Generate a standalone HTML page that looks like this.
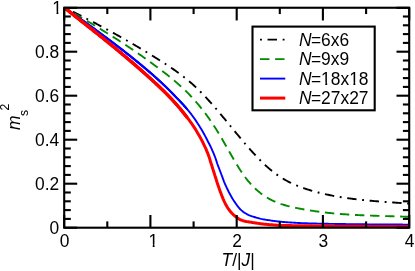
<!DOCTYPE html>
<html><head><meta charset="utf-8">
<style>
html,body{margin:0;padding:0;background:#fff;}
body{width:415px;height:271px;overflow:hidden;}
svg{display:block;will-change:transform;}
text{font-family:"Liberation Sans",sans-serif;font-size:17.4px;fill:#000;}
.it{font-style:italic;}
</style></head><body>
<svg width="415" height="271" viewBox="0 0 415 271">
<rect width="415" height="271" fill="#fff"/>
<defs>
<clipPath id="one"><path d="M-1,-15 H11 V-2.4 H6.1 V2 H4.2 V-2.4 H-1 Z"/></clipPath>
<clipPath id="one2"><path d="M-1,-15 H80 V4 H59.4 V-2.4 H56.3 V4 H54.4 V-2.4 H51.1 V4 H31.3 V-2.4 H28.2 V4 H26.3 V-2.4 H23.0 V4 H-1 Z"/></clipPath>
<clipPath id="c"><rect x="64.2" y="7.75" width="345.0" height="219.95"/></clipPath></defs>
<g clip-path="url(#c)" fill="none" stroke-linejoin="round">
<path d="M64.2,7.50 L65.2,7.99 L66.2,8.48 L67.2,8.97 L68.2,9.46 L69.2,9.96 L70.2,10.45 L71.2,10.95 L72.2,11.44 L73.2,11.94 L74.2,12.44 L75.2,12.94 L76.2,13.44 L77.2,13.94 L78.2,14.45 L79.2,14.95 L80.2,15.46 L81.2,15.96 L82.2,16.47 L83.2,16.98 L84.2,17.49 L85.2,18.00 L86.2,18.51 L87.2,19.03 L88.2,19.54 L89.2,20.06 L90.2,20.58 L91.2,21.10 L92.2,21.62 L93.2,22.14 L94.2,22.66 L95.2,23.19 L96.2,23.71 L97.2,24.24 L98.2,24.77 L99.2,25.30 L100.2,25.83 L101.2,26.36 L102.2,26.90 L103.2,27.43 L104.2,27.97 L105.2,28.51 L106.2,29.05 L107.2,29.59 L108.2,30.13 L109.2,30.68 L110.2,31.22 L111.2,31.77 L112.2,32.32 L113.2,32.87 L114.2,33.42 L115.2,33.97 L116.2,34.53 L117.2,35.09 L118.2,35.64 L119.2,36.20 L120.2,36.76 L121.2,37.33 L122.2,37.89 L123.2,38.46 L124.2,39.02 L125.2,39.59 L126.2,40.16 L127.2,40.74 L128.2,41.31 L129.2,41.89 L130.2,42.46 L131.2,43.04 L132.2,43.62 L133.2,44.21 L134.2,44.79 L135.2,45.38 L136.2,45.96 L137.2,46.55 L138.2,47.15 L139.2,47.74 L140.2,48.33 L141.2,48.93 L142.2,49.53 L143.2,50.13 L144.2,50.73 L145.2,51.33 L146.2,51.94 L147.2,52.55 L148.2,53.16 L149.2,53.77 L150.2,54.38 L151.2,55.00 L152.2,55.61 L153.2,56.23 L154.2,56.85 L155.2,57.48 L156.2,58.10 L157.2,58.73 L158.2,59.36 L159.2,59.99 L160.2,60.62 L161.2,61.25 L162.2,61.89 L163.2,62.53 L164.2,63.17 L165.2,63.82 L166.2,64.47 L167.2,65.12 L168.2,65.78 L169.2,66.44 L170.2,67.11 L171.2,67.79 L172.2,68.47 L173.2,69.15 L174.2,69.85 L175.2,70.55 L176.2,71.26 L177.2,71.97 L178.2,72.70 L179.2,73.43 L180.2,74.17 L181.2,74.92 L182.2,75.68 L183.2,76.45 L184.2,77.24 L185.2,78.03 L186.2,78.83 L187.2,79.65 L188.2,80.47 L189.2,81.31 L190.2,82.17 L191.2,83.03 L192.2,83.91 L193.2,84.80 L194.2,85.71 L195.2,86.63 L196.2,87.57 L197.2,88.52 L198.2,89.49 L199.2,90.47 L200.2,91.47 L201.2,92.48 L202.2,93.50 L203.2,94.54 L204.2,95.59 L205.2,96.65 L206.2,97.72 L207.2,98.80 L208.2,99.90 L209.2,101.00 L210.2,102.11 L211.2,103.24 L212.2,104.37 L213.2,105.51 L214.2,106.66 L215.2,107.81 L216.2,108.98 L217.2,110.15 L218.2,111.32 L219.2,112.50 L220.2,113.69 L221.2,114.88 L222.2,116.08 L223.2,117.28 L224.2,118.48 L225.2,119.69 L226.2,120.90 L227.2,122.11 L228.2,123.32 L229.2,124.54 L230.2,125.75 L231.2,126.97 L232.2,128.18 L233.2,129.40 L234.2,130.61 L235.2,131.82 L236.2,133.03 L237.2,134.24 L238.2,135.45 L239.2,136.65 L240.2,137.85 L241.2,139.04 L242.2,140.23 L243.2,141.42 L244.2,142.59 L245.2,143.76 L246.2,144.93 L247.2,146.09 L248.2,147.24 L249.2,148.38 L250.2,149.51 L251.2,150.63 L252.2,151.74 L253.2,152.85 L254.2,153.94 L255.2,155.02 L256.2,156.08 L257.2,157.14 L258.2,158.18 L259.2,159.21 L260.2,160.22 L261.2,161.22 L262.2,162.21 L263.2,163.18 L264.2,164.13 L265.2,165.07 L266.2,165.99 L267.2,166.89 L268.2,167.78 L269.2,168.64 L270.2,169.49 L271.2,170.32 L272.2,171.12 L273.2,171.91 L274.2,172.68 L275.2,173.43 L276.2,174.16 L277.2,174.87 L278.2,175.56 L279.2,176.23 L280.2,176.89 L281.2,177.53 L282.2,178.15 L283.2,178.75 L284.2,179.34 L285.2,179.92 L286.2,180.47 L287.2,181.02 L288.2,181.55 L289.2,182.06 L290.2,182.56 L291.2,183.05 L292.2,183.52 L293.2,183.98 L294.2,184.43 L295.2,184.87 L296.2,185.29 L297.2,185.71 L298.2,186.11 L299.2,186.50 L300.2,186.89 L301.2,187.26 L302.2,187.62 L303.2,187.98 L304.2,188.32 L305.2,188.66 L306.2,188.99 L307.2,189.31 L308.2,189.63 L309.2,189.94 L310.2,190.24 L311.2,190.54 L312.2,190.83 L313.2,191.11 L314.2,191.39 L315.2,191.67 L316.2,191.94 L317.2,192.20 L318.2,192.46 L319.2,192.72 L320.2,192.97 L321.2,193.21 L322.2,193.45 L323.2,193.69 L324.2,193.92 L325.2,194.15 L326.2,194.37 L327.2,194.59 L328.2,194.80 L329.2,195.01 L330.2,195.22 L331.2,195.42 L332.2,195.62 L333.2,195.81 L334.2,196.00 L335.2,196.18 L336.2,196.37 L337.2,196.54 L338.2,196.72 L339.2,196.89 L340.2,197.06 L341.2,197.22 L342.2,197.38 L343.2,197.54 L344.2,197.69 L345.2,197.84 L346.2,197.99 L347.2,198.13 L348.2,198.28 L349.2,198.41 L350.2,198.55 L351.2,198.68 L352.2,198.81 L353.2,198.94 L354.2,199.06 L355.2,199.18 L356.2,199.30 L357.2,199.42 L358.2,199.53 L359.2,199.64 L360.2,199.75 L361.2,199.86 L362.2,199.97 L363.2,200.07 L364.2,200.17 L365.2,200.27 L366.2,200.37 L367.2,200.46 L368.2,200.55 L369.2,200.65 L370.2,200.74 L371.2,200.82 L372.2,200.91 L373.2,201.00 L374.2,201.08 L375.2,201.16 L376.2,201.24 L377.2,201.32 L378.2,201.40 L379.2,201.48 L380.2,201.56 L381.2,201.63 L382.2,201.71 L383.2,201.78 L384.2,201.85 L385.2,201.93 L386.2,202.00 L387.2,202.07 L388.2,202.14 L389.2,202.21 L390.2,202.28 L391.2,202.35 L392.2,202.42 L393.2,202.48 L394.2,202.55 L395.2,202.62 L396.2,202.69 L397.2,202.76 L398.2,202.83 L399.2,202.90 L400.2,202.96 L401.2,203.03 L402.2,203.10 L403.2,203.17 L404.2,203.24 L405.2,203.31 L406.2,203.39 L407.2,203.46 L408.2,203.53 L409.2,203.60" stroke="#000" stroke-width="1.9" stroke-dasharray="1.88 5.65 9.41 5.65" stroke-dashoffset="20.38"/>
<path d="M64.2,7.50 L65.2,8.08 L66.2,8.66 L67.2,9.25 L68.2,9.83 L69.2,10.41 L70.2,11.00 L71.2,11.58 L72.2,12.16 L73.2,12.75 L74.2,13.34 L75.2,13.92 L76.2,14.51 L77.2,15.10 L78.2,15.68 L79.2,16.27 L80.2,16.86 L81.2,17.45 L82.2,18.04 L83.2,18.64 L84.2,19.23 L85.2,19.82 L86.2,20.42 L87.2,21.01 L88.2,21.61 L89.2,22.21 L90.2,22.81 L91.2,23.41 L92.2,24.01 L93.2,24.61 L94.2,25.21 L95.2,25.82 L96.2,26.43 L97.2,27.03 L98.2,27.64 L99.2,28.25 L100.2,28.86 L101.2,29.48 L102.2,30.09 L103.2,30.71 L104.2,31.32 L105.2,31.94 L106.2,32.56 L107.2,33.19 L108.2,33.81 L109.2,34.44 L110.2,35.06 L111.2,35.69 L112.2,36.32 L113.2,36.96 L114.2,37.59 L115.2,38.23 L116.2,38.87 L117.2,39.51 L118.2,40.15 L119.2,40.80 L120.2,41.44 L121.2,42.09 L122.2,42.74 L123.2,43.40 L124.2,44.05 L125.2,44.71 L126.2,45.37 L127.2,46.03 L128.2,46.70 L129.2,47.37 L130.2,48.04 L131.2,48.71 L132.2,49.38 L133.2,50.06 L134.2,50.74 L135.2,51.42 L136.2,52.11 L137.2,52.79 L138.2,53.48 L139.2,54.18 L140.2,54.87 L141.2,55.57 L142.2,56.27 L143.2,56.98 L144.2,57.68 L145.2,58.39 L146.2,59.11 L147.2,59.82 L148.2,60.54 L149.2,61.27 L150.2,61.99 L151.2,62.72 L152.2,63.45 L153.2,64.19 L154.2,64.92 L155.2,65.66 L156.2,66.41 L157.2,67.16 L158.2,67.91 L159.2,68.66 L160.2,69.42 L161.2,70.18 L162.2,70.95 L163.2,71.72 L164.2,72.49 L165.2,73.26 L166.2,74.05 L167.2,74.83 L168.2,75.63 L169.2,76.43 L170.2,77.23 L171.2,78.05 L172.2,78.87 L173.2,79.70 L174.2,80.53 L175.2,81.38 L176.2,82.24 L177.2,83.10 L178.2,83.98 L179.2,84.87 L180.2,85.77 L181.2,86.68 L182.2,87.60 L183.2,88.54 L184.2,89.49 L185.2,90.45 L186.2,91.43 L187.2,92.42 L188.2,93.43 L189.2,94.45 L190.2,95.49 L191.2,96.54 L192.2,97.61 L193.2,98.70 L194.2,99.81 L195.2,100.94 L196.2,102.08 L197.2,103.25 L198.2,104.43 L199.2,105.63 L200.2,106.86 L201.2,108.10 L202.2,109.37 L203.2,110.65 L204.2,111.96 L205.2,113.28 L206.2,114.63 L207.2,116.00 L208.2,117.39 L209.2,118.80 L210.2,120.24 L211.2,121.70 L212.2,123.18 L213.2,124.68 L214.2,126.21 L215.2,127.76 L216.2,129.34 L217.2,130.93 L218.2,132.56 L219.2,134.20 L220.2,135.87 L221.2,137.57 L222.2,139.27 L223.2,141.00 L224.2,142.73 L225.2,144.48 L226.2,146.23 L227.2,147.99 L228.2,149.74 L229.2,151.50 L230.2,153.25 L231.2,155.00 L232.2,156.73 L233.2,158.46 L234.2,160.17 L235.2,161.86 L236.2,163.53 L237.2,165.18 L238.2,166.80 L239.2,168.39 L240.2,169.95 L241.2,171.48 L242.2,172.97 L243.2,174.43 L244.2,175.84 L245.2,177.20 L246.2,178.52 L247.2,179.80 L248.2,181.04 L249.2,182.23 L250.2,183.38 L251.2,184.49 L252.2,185.57 L253.2,186.60 L254.2,187.60 L255.2,188.56 L256.2,189.49 L257.2,190.38 L258.2,191.25 L259.2,192.07 L260.2,192.87 L261.2,193.64 L262.2,194.38 L263.2,195.09 L264.2,195.77 L265.2,196.43 L266.2,197.06 L267.2,197.67 L268.2,198.25 L269.2,198.81 L270.2,199.35 L271.2,199.87 L272.2,200.37 L273.2,200.84 L274.2,201.30 L275.2,201.74 L276.2,202.16 L277.2,202.57 L278.2,202.95 L279.2,203.33 L280.2,203.68 L281.2,204.03 L282.2,204.35 L283.2,204.67 L284.2,204.97 L285.2,205.27 L286.2,205.55 L287.2,205.82 L288.2,206.08 L289.2,206.33 L290.2,206.58 L291.2,206.81 L292.2,207.04 L293.2,207.27 L294.2,207.49 L295.2,207.70 L296.2,207.91 L297.2,208.12 L298.2,208.32 L299.2,208.52 L300.2,208.71 L301.2,208.90 L302.2,209.09 L303.2,209.28 L304.2,209.46 L305.2,209.63 L306.2,209.81 L307.2,209.98 L308.2,210.14 L309.2,210.31 L310.2,210.47 L311.2,210.62 L312.2,210.78 L313.2,210.93 L314.2,211.08 L315.2,211.22 L316.2,211.36 L317.2,211.50 L318.2,211.64 L319.2,211.77 L320.2,211.90 L321.2,212.02 L322.2,212.15 L323.2,212.27 L324.2,212.39 L325.2,212.50 L326.2,212.62 L327.2,212.73 L328.2,212.84 L329.2,212.94 L330.2,213.04 L331.2,213.14 L332.2,213.24 L333.2,213.34 L334.2,213.43 L335.2,213.52 L336.2,213.61 L337.2,213.70 L338.2,213.78 L339.2,213.87 L340.2,213.95 L341.2,214.02 L342.2,214.10 L343.2,214.18 L344.2,214.25 L345.2,214.32 L346.2,214.39 L347.2,214.45 L348.2,214.52 L349.2,214.58 L350.2,214.65 L351.2,214.71 L352.2,214.76 L353.2,214.82 L354.2,214.88 L355.2,214.93 L356.2,214.98 L357.2,215.04 L358.2,215.09 L359.2,215.14 L360.2,215.18 L361.2,215.23 L362.2,215.27 L363.2,215.32 L364.2,215.36 L365.2,215.40 L366.2,215.44 L367.2,215.48 L368.2,215.52 L369.2,215.56 L370.2,215.60 L371.2,215.63 L372.2,215.67 L373.2,215.71 L374.2,215.74 L375.2,215.77 L376.2,215.81 L377.2,215.84 L378.2,215.87 L379.2,215.90 L380.2,215.93 L381.2,215.96 L382.2,215.99 L383.2,216.02 L384.2,216.05 L385.2,216.08 L386.2,216.11 L387.2,216.14 L388.2,216.17 L389.2,216.20 L390.2,216.23 L391.2,216.26 L392.2,216.29 L393.2,216.31 L394.2,216.34 L395.2,216.37 L396.2,216.40 L397.2,216.43 L398.2,216.46 L399.2,216.49 L400.2,216.52 L401.2,216.55 L402.2,216.59 L403.2,216.62 L404.2,216.65 L405.2,216.68 L406.2,216.72 L407.2,216.75 L408.2,216.79 L409.2,216.82" stroke="#008b00" stroke-width="1.9" stroke-dasharray="9.42 5.66" stroke-dashoffset="3.76"/>
<path d="M64.2,7.30 L65.2,7.99 L66.2,8.69 L67.2,9.38 L68.2,10.07 L69.2,10.77 L70.2,11.46 L71.2,12.16 L72.2,12.86 L73.2,13.56 L74.2,14.26 L75.2,14.96 L76.2,15.67 L77.2,16.38 L78.2,17.08 L79.2,17.79 L80.2,18.51 L81.2,19.22 L82.2,19.93 L83.2,20.65 L84.2,21.37 L85.2,22.08 L86.2,22.80 L87.2,23.53 L88.2,24.25 L89.2,24.97 L90.2,25.70 L91.2,26.42 L92.2,27.15 L93.2,27.87 L94.2,28.60 L95.2,29.33 L96.2,30.06 L97.2,30.79 L98.2,31.53 L99.2,32.26 L100.2,32.99 L101.2,33.73 L102.2,34.46 L103.2,35.20 L104.2,35.94 L105.2,36.68 L106.2,37.42 L107.2,38.17 L108.2,38.91 L109.2,39.66 L110.2,40.41 L111.2,41.16 L112.2,41.91 L113.2,42.67 L114.2,43.43 L115.2,44.19 L116.2,44.95 L117.2,45.71 L118.2,46.48 L119.2,47.25 L120.2,48.02 L121.2,48.79 L122.2,49.57 L123.2,50.34 L124.2,51.13 L125.2,51.91 L126.2,52.69 L127.2,53.48 L128.2,54.27 L129.2,55.07 L130.2,55.86 L131.2,56.66 L132.2,57.46 L133.2,58.26 L134.2,59.07 L135.2,59.88 L136.2,60.69 L137.2,61.51 L138.2,62.33 L139.2,63.15 L140.2,63.97 L141.2,64.80 L142.2,65.63 L143.2,66.47 L144.2,67.31 L145.2,68.15 L146.2,69.00 L147.2,69.85 L148.2,70.70 L149.2,71.56 L150.2,72.43 L151.2,73.30 L152.2,74.17 L153.2,75.06 L154.2,75.95 L155.2,76.85 L156.2,77.76 L157.2,78.67 L158.2,79.59 L159.2,80.51 L160.2,81.43 L161.2,82.36 L162.2,83.30 L163.2,84.25 L164.2,85.20 L165.2,86.17 L166.2,87.14 L167.2,88.13 L168.2,89.12 L169.2,90.12 L170.2,91.13 L171.2,92.15 L172.2,93.17 L173.2,94.20 L174.2,95.23 L175.2,96.27 L176.2,97.31 L177.2,98.34 L178.2,99.38 L179.2,100.42 L180.2,101.46 L181.2,102.52 L182.2,103.59 L183.2,104.68 L184.2,105.79 L185.2,106.93 L186.2,108.08 L187.2,109.25" stroke="#0000ff" stroke-width="1.9"/>
<path d="M64.2,7.70 L65.2,8.39 L66.2,9.09 L67.2,9.78 L68.2,10.47 L69.2,11.17 L70.2,11.86 L71.2,12.56 L72.2,13.26 L73.2,13.96 L74.2,14.66 L75.2,15.36 L76.2,16.07 L77.2,16.78 L78.2,17.48 L79.2,18.19 L80.2,18.91 L81.2,19.62 L82.2,20.33 L83.2,21.05 L84.2,21.77 L85.2,22.48 L86.2,23.20 L87.2,23.93 L88.2,24.65 L89.2,25.37 L90.2,26.10 L91.2,26.82 L92.2,27.55 L93.2,28.27 L94.2,29.00 L95.2,29.73 L96.2,30.46 L97.2,31.19 L98.2,31.93 L99.2,32.66 L100.2,33.39 L101.2,34.13 L102.2,34.86 L103.2,35.60 L104.2,36.34 L105.2,37.08 L106.2,37.82 L107.2,38.57 L108.2,39.31 L109.2,40.06 L110.2,40.81 L111.2,41.56 L112.2,42.31 L113.2,43.07 L114.2,43.83 L115.2,44.59 L116.2,45.35 L117.2,46.11 L118.2,46.88 L119.2,47.65 L120.2,48.42 L121.2,49.19 L122.2,49.97 L123.2,50.74 L124.2,51.53 L125.2,52.31 L126.2,53.09 L127.2,53.88 L128.2,54.67 L129.2,55.47 L130.2,56.26 L131.2,57.06 L132.2,57.86 L133.2,58.66 L134.2,59.47 L135.2,60.28 L136.2,61.09 L137.2,61.91 L138.2,62.73 L139.2,63.55 L140.2,64.37 L141.2,65.20 L142.2,66.02 L143.2,66.86 L144.2,67.69 L145.2,68.53 L146.2,69.37 L147.2,70.21 L148.2,71.06 L149.2,71.91 L150.2,72.76 L151.2,73.62 L152.2,74.49 L153.2,75.37 L154.2,76.25 L155.2,77.14 L156.2,78.03 L157.2,78.93 L158.2,79.83 L159.2,80.74 L160.2,81.66 L161.2,82.57 L162.2,83.50 L163.2,84.43 L164.2,85.37 L165.2,86.33 L166.2,87.29 L167.2,88.26 L168.2,89.24 L169.2,90.24 L170.2,91.23 L171.2,92.24 L172.2,93.25 L173.2,94.27 L174.2,95.29 L175.2,96.32 L176.2,97.35 L177.2,98.38 L178.2,99.41 L179.2,100.44 L180.2,101.48 L181.2,102.53 L182.2,103.60 L183.2,104.68 L184.2,105.79 L185.2,106.93 L186.2,108.08 L187.2,109.25" stroke="#0000ff" stroke-width="1.9"/>
<path d="M64.2,7.50 L65.2,8.19 L66.2,8.89 L67.2,9.58 L68.2,10.27 L69.2,10.97 L70.2,11.66 L71.2,12.36 L72.2,13.06 L73.2,13.76 L74.2,14.46 L75.2,15.16 L76.2,15.87 L77.2,16.58 L78.2,17.28 L79.2,17.99 L80.2,18.71 L81.2,19.42 L82.2,20.13 L83.2,20.85 L84.2,21.57 L85.2,22.28 L86.2,23.00 L87.2,23.73 L88.2,24.45 L89.2,25.17 L90.2,25.90 L91.2,26.62 L92.2,27.35 L93.2,28.07 L94.2,28.80 L95.2,29.53 L96.2,30.26 L97.2,30.99 L98.2,31.73 L99.2,32.46 L100.2,33.19 L101.2,33.93 L102.2,34.66 L103.2,35.40 L104.2,36.14 L105.2,36.88 L106.2,37.62 L107.2,38.37 L108.2,39.11 L109.2,39.86 L110.2,40.61 L111.2,41.36 L112.2,42.11 L113.2,42.87 L114.2,43.63 L115.2,44.39 L116.2,45.15 L117.2,45.91 L118.2,46.68 L119.2,47.45 L120.2,48.22 L121.2,48.99 L122.2,49.77 L123.2,50.54 L124.2,51.33 L125.2,52.11 L126.2,52.89 L127.2,53.68 L128.2,54.47 L129.2,55.27 L130.2,56.06 L131.2,56.86 L132.2,57.66 L133.2,58.46 L134.2,59.27 L135.2,60.08 L136.2,60.89 L137.2,61.71 L138.2,62.53 L139.2,63.35 L140.2,64.17 L141.2,65.00 L142.2,65.83 L143.2,66.66 L144.2,67.50 L145.2,68.34 L146.2,69.18 L147.2,70.03 L148.2,70.88 L149.2,71.74 L150.2,72.59 L151.2,73.46 L152.2,74.33 L153.2,75.21 L154.2,76.10 L155.2,76.99 L156.2,77.89 L157.2,78.80 L158.2,79.71 L159.2,80.62 L160.2,81.54 L161.2,82.47 L162.2,83.40 L163.2,84.34 L164.2,85.29 L165.2,86.25 L166.2,87.22 L167.2,88.20 L168.2,89.18 L169.2,90.18 L170.2,91.18 L171.2,92.19 L172.2,93.21 L173.2,94.23 L174.2,95.26 L175.2,96.30 L176.2,97.33 L177.2,98.36 L178.2,99.39 L179.2,100.43 L180.2,101.47 L181.2,102.52 L182.2,103.59 L183.2,104.68 L184.2,105.79 L185.2,106.93 L186.2,108.08 L187.2,109.25 L188.2,110.44 L189.2,111.65 L190.2,112.89 L191.2,114.16 L192.2,115.47 L193.2,116.82 L194.2,118.21 L195.2,119.65 L196.2,121.13 L197.2,122.65 L198.2,124.20 L199.2,125.78 L200.2,127.40 L201.2,129.06 L202.2,130.76 L203.2,132.50 L204.2,134.29 L205.2,136.12 L206.2,138.01 L207.2,139.95 L208.2,141.96 L209.3,144.05 L210.4,146.20 L211.4,148.44 L212.5,150.78 L213.5,153.20 L214.5,155.68 L215.5,158.23 L216.4,160.85 L217.2,163.48 L218.2,166.12 L219.2,168.78 L220.2,171.42 L221.2,174.02 L222.2,176.59 L223.1,179.11 L224.0,181.56 L225.0,183.97 L226.1,186.30 L227.1,188.55 L228.2,190.74 L229.2,192.83 L230.3,194.83 L231.4,196.75 L232.4,198.56 L233.5,200.26 L234.6,201.86 L235.6,203.34 L236.6,204.74 L237.6,206.08 L238.6,207.35 L239.5,208.49 L240.5,209.49 L241.5,210.37 L242.5,211.18 L243.4,211.92 L244.4,212.60 L245.4,213.22 L246.4,213.80 L247.3,214.33 L248.3,214.82 L249.3,215.27 L250.3,215.68 L251.3,216.04 L252.2,216.37 L253.2,216.67 L254.2,216.97 L255.2,217.26 L256.2,217.56 L257.2,217.85 L258.2,218.14 L259.2,218.42 L260.2,218.69 L261.2,218.93 L262.2,219.14 L263.2,219.33 L264.2,219.51 L265.2,219.68 L266.2,219.84 L267.2,219.99 L268.2,220.14 L269.2,220.29 L270.2,220.43 L271.2,220.57 L272.2,220.71 L273.2,220.85 L274.2,220.98 L275.2,221.11 L276.2,221.24 L277.2,221.36 L278.2,221.47 L279.2,221.57 L280.2,221.67 L281.2,221.76 L282.2,221.85 L283.2,221.94 L284.2,222.02 L285.2,222.10 L286.2,222.18 L287.2,222.26 L288.2,222.33 L289.2,222.40 L290.2,222.46 L291.2,222.53 L292.2,222.59 L293.2,222.65 L294.2,222.71 L295.2,222.77 L296.2,222.83 L297.2,222.89 L298.2,222.94 L299.2,222.99 L300.2,223.04 L301.2,223.08 L302.2,223.13 L303.2,223.17 L304.2,223.21 L305.2,223.24 L306.2,223.28 L307.2,223.31 L308.2,223.34 L309.2,223.37 L310.2,223.40 L311.2,223.43 L312.2,223.46 L313.2,223.49 L314.2,223.51 L315.2,223.54 L316.2,223.56 L317.2,223.59 L318.2,223.61 L319.2,223.63 L320.2,223.65 L321.2,223.68 L322.2,223.70 L323.2,223.72 L324.2,223.74 L325.2,223.76 L326.2,223.78 L327.2,223.79 L328.2,223.81 L329.2,223.83 L330.2,223.85 L331.2,223.86 L332.2,223.88 L333.2,223.90 L334.2,223.91 L335.2,223.93 L336.2,223.94 L337.2,223.96 L338.2,223.97 L339.2,223.99 L340.2,224.00 L341.2,224.02 L342.2,224.03 L343.2,224.04 L344.2,224.06 L345.2,224.07 L346.2,224.09 L347.2,224.10 L348.2,224.11 L349.2,224.13 L350.2,224.14 L351.2,224.15 L352.2,224.16 L353.2,224.18 L354.2,224.19 L355.2,224.20 L356.2,224.21 L357.2,224.22 L358.2,224.24 L359.2,224.25 L360.2,224.26 L361.2,224.27 L362.2,224.28 L363.2,224.29 L364.2,224.30 L365.2,224.31 L366.2,224.32 L367.2,224.33 L368.2,224.34 L369.2,224.35 L370.2,224.36 L371.2,224.37 L372.2,224.38 L373.2,224.39 L374.2,224.39 L375.2,224.40 L376.2,224.41 L377.2,224.42 L378.2,224.42 L379.2,224.43 L380.2,224.44 L381.2,224.45 L382.2,224.45 L383.2,224.46 L384.2,224.47 L385.2,224.47 L386.2,224.48 L387.2,224.49 L388.2,224.50 L389.2,224.50 L390.2,224.51 L391.2,224.51 L392.2,224.52 L393.2,224.53 L394.2,224.53 L395.2,224.54 L396.2,224.54 L397.2,224.55 L398.2,224.55 L399.2,224.56 L400.2,224.56 L401.2,224.57 L402.2,224.57 L403.2,224.58 L404.2,224.58 L405.2,224.59 L406.2,224.59 L407.2,224.59 L408.2,224.60 L409.2,224.60" stroke="#0000ff" stroke-width="1.9"/>
<path d="M64.2,7.25 L65.2,8.05 L66.2,8.85 L67.2,9.64 L68.2,10.44 L69.2,11.24 L70.2,12.03 L71.2,12.83 L72.2,13.62 L73.2,14.42 L74.2,15.21 L75.2,16.00 L76.2,16.79 L77.2,17.58 L78.2,18.37 L79.2,19.16 L80.2,19.95 L81.2,20.74 L82.2,21.53 L83.2,22.32 L84.2,23.11 L85.2,23.90 L86.2,24.68 L87.2,25.47 L88.2,26.26 L89.2,27.05 L90.2,27.84 L91.2,28.63 L92.2,29.42 L93.2,30.22 L94.2,31.01 L95.2,31.80 L96.2,32.60 L97.2,33.39 L98.2,34.19 L99.2,34.99 L100.2,35.79 L101.2,36.59 L102.2,37.39 L103.2,38.19 L104.2,39.00 L105.2,39.80 L106.2,40.61 L107.2,41.42 L108.2,42.23 L109.2,43.05 L110.2,43.86 L111.2,44.68 L112.2,45.50 L113.2,46.32 L114.2,47.14 L115.2,47.97 L116.2,48.79 L117.2,49.62 L118.2,50.45 L119.2,51.28 L120.2,52.11 L121.2,52.94 L122.2,53.78 L123.2,54.62 L124.2,55.46 L125.2,56.30 L126.2,57.14 L127.2,57.99 L128.2,58.83 L129.2,59.68 L130.2,60.54 L131.2,61.39 L132.2,62.25 L133.2,63.11 L134.2,63.97 L135.2,64.83 L136.2,65.70 L137.2,66.57 L138.2,67.44 L139.2,68.31 L140.2,69.19 L141.2,70.07 L142.2,70.95 L143.2,71.84 L144.2,72.73 L145.2,73.63 L146.2,74.52 L147.2,75.42 L148.2,76.33 L149.2,77.24 L150.2,78.15 L151.2,79.06 L152.2,79.98 L153.2,80.90 L154.2,81.83 L155.2,82.76 L156.2,83.70 L157.2,84.64 L158.2,85.59 L159.2,86.55 L160.2,87.51 L161.2,88.48 L162.2,89.46 L163.2,90.44 L164.2,91.43 L165.2,92.44 L166.2,93.45 L167.2,94.47 L168.2,95.50 L169.2,96.54 L170.2,97.59 L171.2,98.65 L172.2,99.72 L173.2,100.81 L174.2,101.91 L175.2,103.03 L176.2,104.15 L177.2,105.29 L178.2,106.45 L179.2,107.62 L180.2,108.80 L181.2,110.00 L182.2,111.22 L183.2,112.45 L184.2,113.69 L185.2,114.95 L186.2,116.23 L187.2,117.53" stroke="#ff0000" stroke-width="3.0"/>
<path d="M64.2,7.75 L65.2,8.55 L66.2,9.35 L67.2,10.14 L68.2,10.94 L69.2,11.74 L70.2,12.53 L71.2,13.33 L72.2,14.12 L73.2,14.92 L74.2,15.71 L75.2,16.50 L76.2,17.29 L77.2,18.08 L78.2,18.87 L79.2,19.66 L80.2,20.45 L81.2,21.24 L82.2,22.03 L83.2,22.82 L84.2,23.61 L85.2,24.40 L86.2,25.18 L87.2,25.97 L88.2,26.76 L89.2,27.55 L90.2,28.34 L91.2,29.13 L92.2,29.92 L93.2,30.72 L94.2,31.51 L95.2,32.30 L96.2,33.10 L97.2,33.89 L98.2,34.69 L99.2,35.49 L100.2,36.29 L101.2,37.09 L102.2,37.89 L103.2,38.69 L104.2,39.50 L105.2,40.30 L106.2,41.11 L107.2,41.92 L108.2,42.73 L109.2,43.55 L110.2,44.36 L111.2,45.18 L112.2,46.00 L113.2,46.82 L114.2,47.64 L115.2,48.47 L116.2,49.29 L117.2,50.12 L118.2,50.95 L119.2,51.78 L120.2,52.61 L121.2,53.44 L122.2,54.28 L123.2,55.12 L124.2,55.96 L125.2,56.80 L126.2,57.64 L127.2,58.49 L128.2,59.33 L129.2,60.18 L130.2,61.04 L131.2,61.89 L132.2,62.75 L133.2,63.61 L134.2,64.47 L135.2,65.33 L136.2,66.20 L137.2,67.07 L138.2,67.94 L139.2,68.81 L140.2,69.69 L141.2,70.56 L142.2,71.44 L143.2,72.32 L144.2,73.21 L145.2,74.10 L146.2,74.98 L147.2,75.88 L148.2,76.77 L149.2,77.67 L150.2,78.57 L151.2,79.47 L152.2,80.37 L153.2,81.28 L154.2,82.20 L155.2,83.11 L156.2,84.04 L157.2,84.97 L158.2,85.90 L159.2,86.84 L160.2,87.79 L161.2,88.74 L162.2,89.70 L163.2,90.67 L164.2,91.65 L165.2,92.64 L166.2,93.63 L167.2,94.64 L168.2,95.65 L169.2,96.68 L170.2,97.71 L171.2,98.76 L172.2,99.82 L173.2,100.90 L174.2,101.99 L175.2,103.09 L176.2,104.21 L177.2,105.34 L178.2,106.48 L179.2,107.65 L180.2,108.82 L181.2,110.02 L182.2,111.22 L183.2,112.45 L184.2,113.69 L185.2,114.95 L186.2,116.23 L187.2,117.53" stroke="#ff0000" stroke-width="3.0"/>
<path d="M64.2,7.50 L65.2,8.30 L66.2,9.10 L67.2,9.89 L68.2,10.69 L69.2,11.49 L70.2,12.28 L71.2,13.08 L72.2,13.87 L73.2,14.67 L74.2,15.46 L75.2,16.25 L76.2,17.04 L77.2,17.83 L78.2,18.62 L79.2,19.41 L80.2,20.20 L81.2,20.99 L82.2,21.78 L83.2,22.57 L84.2,23.36 L85.2,24.15 L86.2,24.93 L87.2,25.72 L88.2,26.51 L89.2,27.30 L90.2,28.09 L91.2,28.88 L92.2,29.67 L93.2,30.47 L94.2,31.26 L95.2,32.05 L96.2,32.85 L97.2,33.64 L98.2,34.44 L99.2,35.24 L100.2,36.04 L101.2,36.84 L102.2,37.64 L103.2,38.44 L104.2,39.25 L105.2,40.05 L106.2,40.86 L107.2,41.67 L108.2,42.48 L109.2,43.30 L110.2,44.11 L111.2,44.93 L112.2,45.75 L113.2,46.57 L114.2,47.39 L115.2,48.22 L116.2,49.04 L117.2,49.87 L118.2,50.70 L119.2,51.53 L120.2,52.36 L121.2,53.19 L122.2,54.03 L123.2,54.87 L124.2,55.71 L125.2,56.55 L126.2,57.39 L127.2,58.24 L128.2,59.08 L129.2,59.93 L130.2,60.79 L131.2,61.64 L132.2,62.50 L133.2,63.36 L134.2,64.22 L135.2,65.08 L136.2,65.95 L137.2,66.82 L138.2,67.69 L139.2,68.56 L140.2,69.44 L141.2,70.32 L142.2,71.20 L143.2,72.08 L144.2,72.97 L145.2,73.86 L146.2,74.75 L147.2,75.65 L148.2,76.55 L149.2,77.45 L150.2,78.36 L151.2,79.26 L152.2,80.18 L153.2,81.09 L154.2,82.01 L155.2,82.94 L156.2,83.87 L157.2,84.80 L158.2,85.75 L159.2,86.69 L160.2,87.65 L161.2,88.61 L162.2,89.58 L163.2,90.56 L164.2,91.54 L165.2,92.54 L166.2,93.54 L167.2,94.55 L168.2,95.57 L169.2,96.61 L170.2,97.65 L171.2,98.71 L172.2,99.77 L173.2,100.86 L174.2,101.95 L175.2,103.06 L176.2,104.18 L177.2,105.32 L178.2,106.47 L179.2,107.63 L180.2,108.81 L181.2,110.01 L182.2,111.22 L183.2,112.45 L184.2,113.69 L185.2,114.95 L186.2,116.23 L187.2,117.53 L188.2,118.84 L189.2,120.17 L190.2,121.52 L191.2,122.91 L192.2,124.33 L193.2,125.79 L194.2,127.30 L195.2,128.86 L196.2,130.47 L197.2,132.16 L198.2,133.90 L199.3,135.73 L200.3,137.63 L201.4,139.62 L202.5,141.70 L203.5,143.89 L204.6,146.18 L205.8,148.56 L206.8,151.07 L207.9,153.69 L208.9,156.38 L209.8,159.16 L210.6,162.01 L211.6,164.91 L212.5,167.85 L213.4,170.84 L214.4,173.83 L215.3,176.83 L216.3,179.84 L217.2,182.80 L218.2,185.73 L219.2,188.62 L220.2,191.41 L221.2,194.10 L222.2,196.69 L223.2,199.10 L224.2,201.35 L225.2,203.44 L226.2,205.34 L227.2,207.03 L228.2,208.58 L229.2,209.99 L230.2,211.28 L231.2,212.47 L232.2,213.55 L233.2,214.54 L234.2,215.44 L235.2,216.27 L236.2,217.04 L237.2,217.79 L238.2,218.49 L239.2,219.10 L240.2,219.59 L241.2,220.01 L242.2,220.38 L243.2,220.71 L244.2,221.00 L245.2,221.25 L246.2,221.46 L247.2,221.64 L248.2,221.81 L249.2,221.97 L250.2,222.13 L251.2,222.30 L252.2,222.46 L253.2,222.62 L254.2,222.78 L255.2,222.93 L256.2,223.08 L257.2,223.23 L258.2,223.38 L259.2,223.53 L260.2,223.67 L261.2,223.80 L262.2,223.92 L263.2,224.04 L264.2,224.15 L265.2,224.26 L266.2,224.36 L267.2,224.45 L268.2,224.55 L269.2,224.63 L270.2,224.72 L271.2,224.80 L272.2,224.87 L273.2,224.95 L274.2,225.02 L275.2,225.09 L276.2,225.16 L277.2,225.22 L278.2,225.27 L279.2,225.31 L280.2,225.35 L281.2,225.38 L282.2,225.41 L283.2,225.45 L284.2,225.47 L285.2,225.50 L286.2,225.53 L287.2,225.55 L288.2,225.57 L289.2,225.59 L290.2,225.60 L291.2,225.62 L292.2,225.63 L293.2,225.64 L294.2,225.65 L295.2,225.66 L296.2,225.67 L297.2,225.68 L298.2,225.69 L299.2,225.70 L300.2,225.71 L301.2,225.72 L302.2,225.73 L303.2,225.74 L304.2,225.75 L305.2,225.77 L306.2,225.78 L307.2,225.80 L308.2,225.81 L309.2,225.83 L310.2,225.84 L311.2,225.86 L312.2,225.88 L313.2,225.90 L314.2,225.91 L315.2,225.93 L316.2,225.95 L317.2,225.96 L318.2,225.98 L319.2,225.99 L320.2,226.00 L321.2,226.01 L322.2,226.03 L323.2,226.04 L324.2,226.05 L325.2,226.06 L326.2,226.07 L327.2,226.08 L328.2,226.09 L329.2,226.10 L330.2,226.11 L331.2,226.12 L332.2,226.13 L333.2,226.14 L334.2,226.15 L335.2,226.16 L336.2,226.17 L337.2,226.18 L338.2,226.19 L339.2,226.19 L340.2,226.20 L341.2,226.21 L342.2,226.22 L343.2,226.22 L344.2,226.23 L345.2,226.24 L346.2,226.24 L347.2,226.25 L348.2,226.26 L349.2,226.26 L350.2,226.27 L351.2,226.28 L352.2,226.28 L353.2,226.29 L354.2,226.30 L355.2,226.30 L356.2,226.31 L357.2,226.31 L358.2,226.32 L359.2,226.33 L360.2,226.33 L361.2,226.34 L362.2,226.34 L363.2,226.35 L364.2,226.35 L365.2,226.36 L366.2,226.36 L367.2,226.37 L368.2,226.37 L369.2,226.38 L370.2,226.38 L371.2,226.38 L372.2,226.39 L373.2,226.39 L374.2,226.40 L375.2,226.40 L376.2,226.40 L377.2,226.41 L378.2,226.41 L379.2,226.42 L380.2,226.42 L381.2,226.42 L382.2,226.43 L383.2,226.43 L384.2,226.43 L385.2,226.44 L386.2,226.44 L387.2,226.44 L388.2,226.45 L389.2,226.45 L390.2,226.45 L391.2,226.46 L392.2,226.46 L393.2,226.46 L394.2,226.47 L395.2,226.47 L396.2,226.47 L397.2,226.47 L398.2,226.48 L399.2,226.48 L400.2,226.48 L401.2,226.48 L402.2,226.49 L403.2,226.49 L404.2,226.49 L405.2,226.49 L406.2,226.49 L407.2,226.50 L408.2,226.50 L409.2,226.50" stroke="#ff0000" stroke-width="3.0"/>
</g>
<g stroke="#000" stroke-width="2.1" fill="none">
<rect x="64.2" y="7.75" width="345.0" height="219.95"/>
<line x1="64.2" y1="227.7" x2="64.2" y2="215.0"/>
<line x1="64.2" y1="7.75" x2="64.2" y2="20.45"/>
<line x1="150.4" y1="227.7" x2="150.4" y2="215.0"/>
<line x1="150.4" y1="7.75" x2="150.4" y2="20.45"/>
<line x1="236.7" y1="227.7" x2="236.7" y2="215.0"/>
<line x1="236.7" y1="7.75" x2="236.7" y2="20.45"/>
<line x1="322.9" y1="227.7" x2="322.9" y2="215.0"/>
<line x1="322.9" y1="7.75" x2="322.9" y2="20.45"/>
<line x1="409.2" y1="227.7" x2="409.2" y2="215.0"/>
<line x1="409.2" y1="7.75" x2="409.2" y2="20.45"/>
<line x1="107.3" y1="227.7" x2="107.3" y2="221.39999999999998"/>
<line x1="107.3" y1="7.75" x2="107.3" y2="14.05"/>
<line x1="193.6" y1="227.7" x2="193.6" y2="221.39999999999998"/>
<line x1="193.6" y1="7.75" x2="193.6" y2="14.05"/>
<line x1="279.8" y1="227.7" x2="279.8" y2="221.39999999999998"/>
<line x1="279.8" y1="7.75" x2="279.8" y2="14.05"/>
<line x1="366.1" y1="227.7" x2="366.1" y2="221.39999999999998"/>
<line x1="366.1" y1="7.75" x2="366.1" y2="14.05"/>
<line x1="64.2" y1="227.7" x2="77.2" y2="227.7"/>
<line x1="409.2" y1="227.7" x2="396.5" y2="227.7"/>
<line x1="64.2" y1="218.9" x2="70.8" y2="218.9"/>
<line x1="409.2" y1="218.9" x2="402.9" y2="218.9"/>
<line x1="64.2" y1="210.1" x2="70.8" y2="210.1"/>
<line x1="409.2" y1="210.1" x2="402.9" y2="210.1"/>
<line x1="64.2" y1="201.3" x2="70.8" y2="201.3"/>
<line x1="409.2" y1="201.3" x2="402.9" y2="201.3"/>
<line x1="64.2" y1="192.5" x2="70.8" y2="192.5"/>
<line x1="409.2" y1="192.5" x2="402.9" y2="192.5"/>
<line x1="64.2" y1="183.7" x2="77.2" y2="183.7"/>
<line x1="409.2" y1="183.7" x2="396.5" y2="183.7"/>
<line x1="64.2" y1="174.9" x2="70.8" y2="174.9"/>
<line x1="409.2" y1="174.9" x2="402.9" y2="174.9"/>
<line x1="64.2" y1="166.1" x2="70.8" y2="166.1"/>
<line x1="409.2" y1="166.1" x2="402.9" y2="166.1"/>
<line x1="64.2" y1="157.3" x2="70.8" y2="157.3"/>
<line x1="409.2" y1="157.3" x2="402.9" y2="157.3"/>
<line x1="64.2" y1="148.5" x2="70.8" y2="148.5"/>
<line x1="409.2" y1="148.5" x2="402.9" y2="148.5"/>
<line x1="64.2" y1="139.7" x2="77.2" y2="139.7"/>
<line x1="409.2" y1="139.7" x2="396.5" y2="139.7"/>
<line x1="64.2" y1="130.9" x2="70.8" y2="130.9"/>
<line x1="409.2" y1="130.9" x2="402.9" y2="130.9"/>
<line x1="64.2" y1="122.1" x2="70.8" y2="122.1"/>
<line x1="409.2" y1="122.1" x2="402.9" y2="122.1"/>
<line x1="64.2" y1="113.3" x2="70.8" y2="113.3"/>
<line x1="409.2" y1="113.3" x2="402.9" y2="113.3"/>
<line x1="64.2" y1="104.5" x2="70.8" y2="104.5"/>
<line x1="409.2" y1="104.5" x2="402.9" y2="104.5"/>
<line x1="64.2" y1="95.7" x2="77.2" y2="95.7"/>
<line x1="409.2" y1="95.7" x2="396.5" y2="95.7"/>
<line x1="64.2" y1="86.9" x2="70.8" y2="86.9"/>
<line x1="409.2" y1="86.9" x2="402.9" y2="86.9"/>
<line x1="64.2" y1="78.1" x2="70.8" y2="78.1"/>
<line x1="409.2" y1="78.1" x2="402.9" y2="78.1"/>
<line x1="64.2" y1="69.3" x2="70.8" y2="69.3"/>
<line x1="409.2" y1="69.3" x2="402.9" y2="69.3"/>
<line x1="64.2" y1="60.5" x2="70.8" y2="60.5"/>
<line x1="409.2" y1="60.5" x2="402.9" y2="60.5"/>
<line x1="64.2" y1="51.7" x2="77.2" y2="51.7"/>
<line x1="409.2" y1="51.7" x2="396.5" y2="51.7"/>
<line x1="64.2" y1="42.9" x2="70.8" y2="42.9"/>
<line x1="409.2" y1="42.9" x2="402.9" y2="42.9"/>
<line x1="64.2" y1="34.1" x2="70.8" y2="34.1"/>
<line x1="409.2" y1="34.1" x2="402.9" y2="34.1"/>
<line x1="64.2" y1="25.3" x2="70.8" y2="25.3"/>
<line x1="409.2" y1="25.3" x2="402.9" y2="25.3"/>
<line x1="64.2" y1="16.5" x2="70.8" y2="16.5"/>
<line x1="409.2" y1="16.5" x2="402.9" y2="16.5"/>
<line x1="64.2" y1="7.8" x2="77.2" y2="7.8"/>
<line x1="409.2" y1="7.8" x2="396.5" y2="7.8"/>
</g>
<g>
<text transform="translate(59.20,233.90) scale(1,1.02)" text-anchor="end">0</text>
<text transform="translate(59.20,189.91) scale(1,1.02)" text-anchor="end">0.2</text>
<text transform="translate(59.20,145.92) scale(1,1.02)" text-anchor="end">0.4</text>
<text transform="translate(59.20,101.93) scale(1,1.02)" text-anchor="end">0.6</text>
<text transform="translate(59.20,57.94) scale(1,1.02)" text-anchor="end">0.8</text>
<text transform="translate(52.30,13.95) scale(1,1.02)" text-anchor="start" clip-path="url(#one)">1</text>
<text transform="translate(64.70,246.50) scale(1,1.02)" text-anchor="middle">0</text>
<text transform="translate(148.50,246.50) scale(1,1.02)" text-anchor="start" clip-path="url(#one)">1</text>
<text transform="translate(237.20,246.50) scale(1,1.02)" text-anchor="middle">2</text>
<text transform="translate(323.45,246.50) scale(1,1.02)" text-anchor="middle">3</text>
<text transform="translate(409.70,246.50) scale(1,1.02)" text-anchor="middle">4</text>
</g>
<!-- legend -->
<rect x="252.5" y="26.6" width="122.2" height="83.7" fill="#fff" stroke="#000" stroke-width="2.1"/>
<g fill="none">
<line x1="260" y1="39.6" x2="285.3" y2="39.6" stroke="#000" stroke-width="1.9" stroke-dasharray="1.9 5.65 9.45 5.65"/>
<line x1="260" y1="59.1" x2="285.3" y2="59.1" stroke="#008b00" stroke-width="1.9" stroke-dasharray="9.45 5.65"/>
<line x1="260" y1="78.6" x2="285.3" y2="78.6" stroke="#0000ff" stroke-width="1.9"/>
<line x1="260" y1="98.1" x2="285.3" y2="98.1" stroke="#ff0000" stroke-width="3.0"/>
</g>
<g>
<text transform="translate(299.00,45.70) scale(1,1.02)" text-anchor="start"><tspan class="it">N</tspan><tspan dx="-0.6">=6x6</tspan></text>
<text transform="translate(299.00,65.20) scale(1,1.02)" text-anchor="start"><tspan class="it">N</tspan><tspan dx="-0.6">=9x9</tspan></text>
<text transform="translate(299.00,84.70) scale(1,1.02)" text-anchor="start" clip-path="url(#one2)"><tspan class="it">N</tspan><tspan dx="-0.6">=18x18</tspan></text>
<text transform="translate(299.00,104.20) scale(1,1.02)" text-anchor="start"><tspan class="it">N</tspan><tspan dx="-0.6">=27x27</tspan></text>
</g>
<text transform="translate(238.10,266.20) scale(1,1.02)" text-anchor="middle"><tspan class="it">T</tspan>/|<tspan class="it">J</tspan>|</text>
<g transform="translate(19.9,130.1) rotate(-90)">
<text transform="translate(0.00,0.00) scale(1,1.02)" text-anchor="start" class="it">m</text>
<text transform="translate(14.00,8.10) scale(1,1.02)" text-anchor="start" style="font-size:12.2px">s</text>
<text transform="translate(19.60,-10.60) scale(1,1.02)" text-anchor="start" style="font-size:12.2px">2</text>
</g>
</svg>
</body></html>
